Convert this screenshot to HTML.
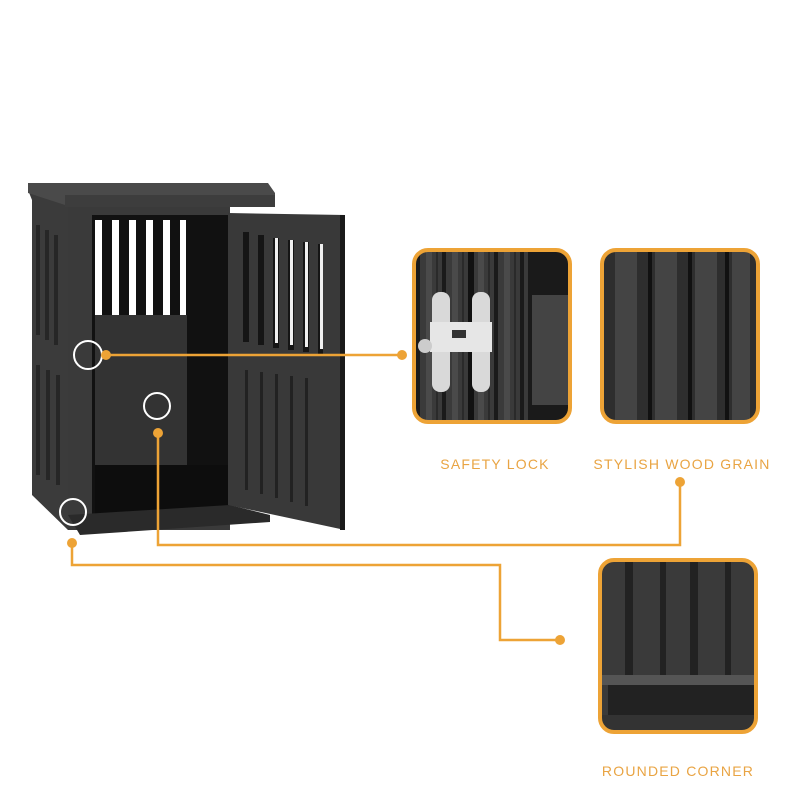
<!DOCTYPE html>
<html><head><meta charset="utf-8"><style>
html,body{margin:0;padding:0;background:#fff;}
svg{display:block}
text{font-family:"Liberation Sans",sans-serif;fill:#e9a443;font-size:14px;letter-spacing:1.2px}
</style></head><body>
<svg width="800" height="800" viewBox="0 0 800 800" xmlns="http://www.w3.org/2000/svg">
<defs>
<linearGradient id="g1" x1="0" x2="1"><stop offset="0" stop-color="#3a3a3a"/><stop offset="0.5" stop-color="#555"/><stop offset="1" stop-color="#2a2a2a"/></linearGradient>
<pattern id="grain" width="26" height="10" patternUnits="userSpaceOnUse">
<rect width="26" height="10" fill="#3a3a3a"/><rect x="0" width="4" height="10" fill="#1a1a1a"/><rect x="10" width="6" height="10" fill="#4a4a4a"/><rect x="20" width="2" height="10" fill="#2a2a2a"/></pattern>
<clipPath id="c1"><rect x="414" y="250" width="156" height="172" rx="14"/></clipPath>
<clipPath id="c2"><rect x="602" y="250" width="156" height="172" rx="14"/></clipPath>
<clipPath id="c3"><rect x="600" y="560" width="156" height="172" rx="14"/></clipPath>
</defs>
<!-- crate -->
<polygon points="28,190 68,200 68,530 32,495 32,200" fill="#3b3b3b"/>
<g fill="#262626"><rect x="36" y="225" width="4" height="110"/><rect x="45" y="230" width="4" height="110"/><rect x="54" y="235" width="4" height="110"/><rect x="36" y="365" width="4" height="110"/><rect x="46" y="370" width="4" height="110"/><rect x="56" y="375" width="4" height="110"/></g>
<polygon points="28,183 268,183 275,193 275,203 65,205 28,193" fill="#4a4a4a"/>
<rect x="65" y="195" width="210" height="12" fill="#3d3d3d"/>
<rect x="68" y="207" width="162" height="323" fill="#3a3a3a"/>
<rect x="92" y="215" width="136" height="300" fill="#111"/>
<g fill="#fff"><rect x="95" y="220" width="7" height="95"/><rect x="112" y="220" width="7" height="95"/><rect x="129" y="220" width="7" height="95"/><rect x="146" y="220" width="7" height="95"/><rect x="163" y="220" width="7" height="95"/><rect x="180" y="220" width="6" height="95"/></g>
<rect x="95" y="315" width="92" height="150" fill="#333"/>
<rect x="95" y="465" width="135" height="50" fill="#0d0d0d"/>
<polygon points="68,515 230,505 270,515 270,522 80,535" fill="#2a2a2a"/>
<polygon points="228,213 345,215 345,530 228,505" fill="#393939"/>
<g fill="#151515"><rect x="243" y="232" width="6" height="110"/><rect x="258" y="235" width="6" height="110"/><rect x="273" y="238" width="6" height="110"/><rect x="288" y="240" width="6" height="110"/><rect x="303" y="242" width="6" height="110"/><rect x="318" y="244" width="5" height="110"/></g>
<g fill="#f0f0f0"><rect x="275" y="238" width="3" height="105"/><rect x="290" y="240" width="3" height="105"/><rect x="305" y="242" width="3" height="105"/><rect x="320" y="244" width="3" height="105"/></g>
<g fill="#222"><rect x="245" y="370" width="3" height="120"/><rect x="260" y="372" width="3" height="122"/><rect x="275" y="374" width="3" height="124"/><rect x="290" y="376" width="3" height="126"/><rect x="305" y="378" width="3" height="128"/></g>
<rect x="340" y="215" width="5" height="315" fill="#1a1a1a"/>
<!-- circles -->
<g fill="none" stroke="#fff" stroke-width="2"><circle cx="88" cy="355" r="14"/><circle cx="157" cy="406" r="13"/><circle cx="73" cy="512" r="13"/></g>
<!-- connectors -->
<g fill="none" stroke="#eda336" stroke-width="2.5">
<path d="M106 355 H402"/>
<path d="M158 432 V545 H680 V482"/>
<path d="M72 540 V565 H500 V640 H560"/>
</g>
<g fill="#eda336"><circle cx="106" cy="355" r="5"/><circle cx="402" cy="355" r="5"/><circle cx="158" cy="433" r="5"/><circle cx="680" cy="482" r="5"/><circle cx="72" cy="543" r="5"/><circle cx="560" cy="640" r="5"/></g>
<!-- box1 -->
<g clip-path="url(#c1)"><rect x="414" y="250" width="156" height="172" fill="url(#grain)"/>
<rect x="468" y="250" width="6" height="172" fill="#111"/><rect x="528" y="250" width="42" height="172" fill="#1a1a1a"/><rect x="532" y="295" width="38" height="110" fill="#444"/>
<rect x="432" y="292" width="18" height="100" rx="8" fill="#d9d9d9"/><rect x="472" y="292" width="18" height="100" rx="8" fill="#d9d9d9"/>
<rect x="430" y="322" width="62" height="30" fill="#e6e6e6"/><rect x="452" y="330" width="14" height="8" fill="#333"/><circle cx="425" cy="346" r="7" fill="#ccc"/></g>
<rect x="414" y="250" width="156" height="172" rx="14" fill="none" stroke="#eda336" stroke-width="4"/>
<!-- box2 -->
<g clip-path="url(#c2)"><rect x="602" y="250" width="156" height="172" fill="#2e2e2e"/>
<g fill="#444"><rect x="615" y="250" width="22" height="172"/><rect x="655" y="250" width="22" height="172"/><rect x="695" y="250" width="22" height="172"/><rect x="732" y="250" width="18" height="172"/></g>
<g fill="#111"><rect x="648" y="250" width="4" height="172"/><rect x="688" y="250" width="4" height="172"/><rect x="725" y="250" width="4" height="172"/></g></g>
<rect x="602" y="250" width="156" height="172" rx="14" fill="none" stroke="#eda336" stroke-width="4"/>
<!-- box3 -->
<g clip-path="url(#c3)"><rect x="600" y="560" width="156" height="172" fill="#3a3a3a"/>
<g fill="#222"><rect x="625" y="560" width="8" height="115"/><rect x="660" y="560" width="6" height="115"/><rect x="690" y="560" width="8" height="115"/><rect x="725" y="560" width="6" height="115"/></g>
<rect x="600" y="675" width="156" height="10" fill="#555"/><rect x="608" y="685" width="148" height="30" fill="#222"/><rect x="600" y="715" width="156" height="17" fill="#333"/></g>
<rect x="600" y="560" width="156" height="172" rx="14" fill="none" stroke="#eda336" stroke-width="4"/>
<text x="495" y="469" text-anchor="middle">SAFETY LOCK</text>
<text x="682" y="469" text-anchor="middle">STYLISH WOOD GRAIN</text>
<text x="678" y="776" text-anchor="middle">ROUNDED CORNER</text>
</svg>
</body></html>
